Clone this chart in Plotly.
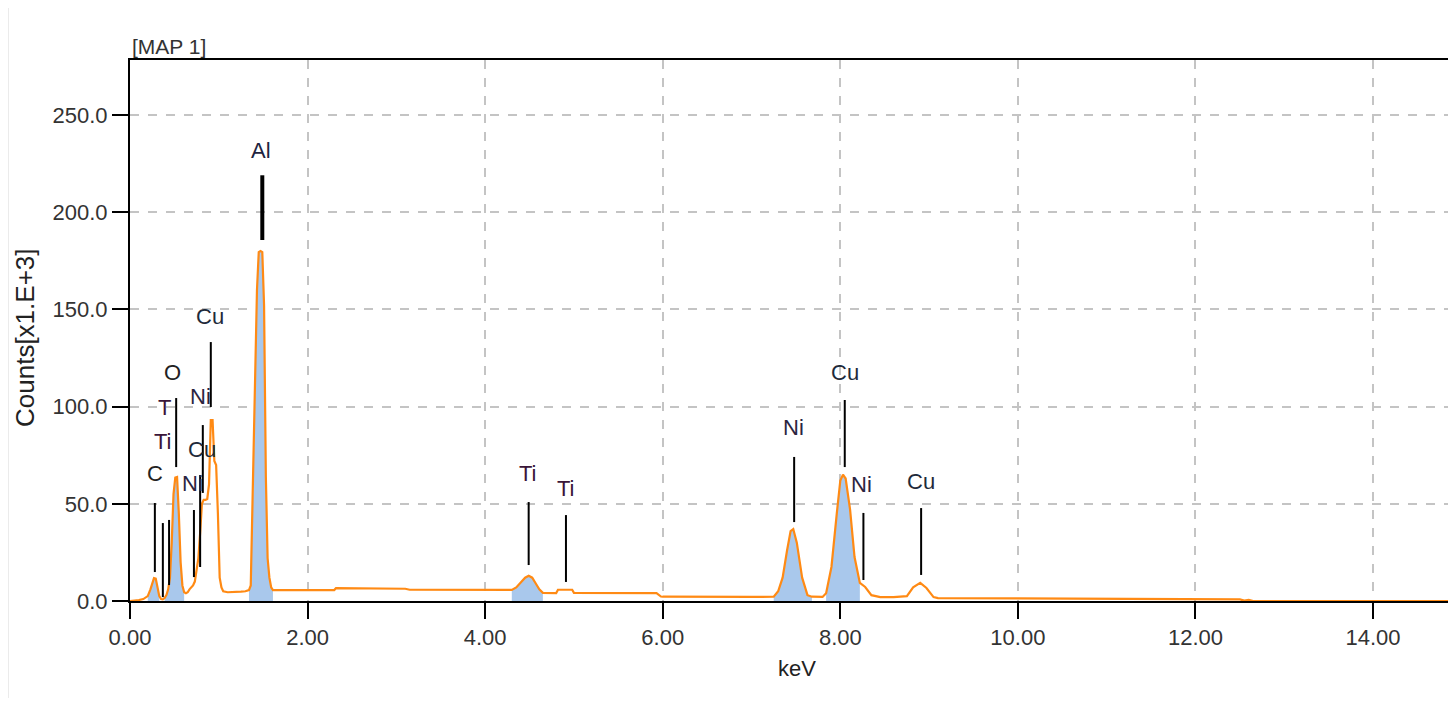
import plotly.graph_objects as go

# ---- spectrum (keV, counts x1000) ----
energy = [0.00, 0.05, 0.10, 0.15, 0.20, 0.23, 0.25, 0.27, 0.29, 0.31, 0.33, 0.35, 0.37, 0.39,
          0.41, 0.43, 0.45, 0.47, 0.49, 0.51, 0.53, 0.55, 0.57, 0.59, 0.61, 0.63, 0.65, 0.67,
          0.69, 0.71, 0.73, 0.75, 0.77, 0.79, 0.81, 0.83, 0.85, 0.87, 0.89, 0.91, 0.93, 0.95,
          0.97, 0.99, 1.01, 1.03, 1.05, 1.10, 1.15, 1.20, 1.25, 1.30, 1.34, 1.36, 1.37, 1.39,
          1.41, 1.43, 1.45, 1.47, 1.49, 1.51, 1.53, 1.55, 1.57, 1.59, 1.61, 1.70, 2.00, 2.30,
          2.32, 3.10, 3.15, 4.00, 4.30, 4.35, 4.40, 4.45, 4.49, 4.53, 4.57, 4.61, 4.65, 4.80,
          4.82, 4.98, 5.00, 5.93, 5.98, 6.00, 7.00, 7.25, 7.30, 7.35, 7.40, 7.44, 7.47, 7.51,
          7.57, 7.63, 7.68, 7.80, 7.84, 7.90, 7.96, 8.00, 8.03, 8.06, 8.11, 8.16, 8.22, 8.28,
          8.35, 8.45, 8.60, 8.75, 8.82, 8.90, 8.97, 9.05, 9.10, 10.0, 11.0, 12.0, 12.5, 12.55,
          12.6, 12.65, 15.0]
counts = [0.0, 0.2, 0.5, 1.0, 2.5, 6.0, 9.5, 11.8, 11.5, 7.0, 2.5, 1.0, 0.8, 1.5,
          3.0, 6.0, 12.0, 30.0, 55.0, 63.5, 63.8, 45.0, 20.0, 8.0, 4.5, 4.0, 4.5, 6.0,
          7.0, 8.0, 10.0, 15.0, 22.0, 35.0, 50.0, 52.0, 52.0, 52.5, 60.0, 93.0, 93.0, 72.0,
          70.0, 45.0, 12.0, 7.0, 5.0, 4.5, 4.5, 4.6, 4.8, 5.0, 5.6, 8.0, 31.0, 58.0,
          112.0, 160.0, 179.5, 180.0, 179.5, 152.0, 64.0, 22.0, 12.0, 7.0, 5.6, 5.6, 5.6, 5.6,
          6.6, 6.3, 5.8, 5.7, 5.7, 7.0, 9.5, 12.0, 13.0, 12.0, 9.0, 6.0, 4.2, 4.1,
          5.8, 5.8, 4.2, 4.0, 2.3, 2.2, 2.1, 2.2, 5.0, 12.0, 26.0, 36.0, 37.0, 30.0,
          12.0, 3.0, 2.2, 2.1, 4.0, 17.5, 45.0, 62.0, 65.0, 63.0, 47.0, 22.6, 9.3, 7.2,
          3.0, 2.0, 2.0, 2.5, 7.0, 9.3, 6.7, 2.0, 1.5, 1.4, 1.2, 1.0, 0.8, 0.2,
          0.6, 0.0, 0.0]

# identified peak windows (keV) shaded in blue
fill_lo = [0.20, 0.39, 1.34, 4.30, 7.25, 7.84]
fill_hi = [0.33, 0.61, 1.61, 4.65, 7.68, 8.22]

# ---- element markers ----
marker_label = ["C", "Ti", "T", "O", "Ni", "Cu", "Ni", "Cu", "Al", "Ti", "Ti", "Ni", "Cu", "Ni", "Cu"]
marker_energy = [0.28, 0.37, 0.44, 0.52, 0.72, 0.79, 0.82, 0.91, 1.49, 4.49, 4.91, 7.48, 8.05, 8.26, 8.91]
marker_top = [50.4, 40.1, 41.7, 104.4, 46.8, 64.8, 90.5, 133.2, 219.0, 50.9, 44.2, 74.1, 103.4, 45.3, 47.8]
marker_bottom = [14.9, 2.0, 8.2, 68.9, 12.3, 17.5, 55.6, 99.8, 185.7, 18.5, 9.8, 40.6, 68.9, 10.8, 13.4]
label_x = [0.28, 0.37, 0.39, 0.48, 0.70, 0.81, 0.79, 0.90, 1.475, 4.48, 4.91, 7.47, 8.05, 8.24, 8.91]
label_y = [65.8, 81.8, 99.3, 117.8, 60.7, 77.7, 105.0, 146.6, 232.0, 65.8, 58.1, 89.5, 117.3, 59.7, 61.7]

x_ticks = [0, 2, 4, 6, 8, 10, 12, 14]
y_ticks = [0, 50, 100, 150, 200, 250]

label_colors = {"Ti": "#3a1538", "T": "#3a1538", "Ni": "#2b2440", "Cu": "#1e2a3a",
                "Al": "#1e2440", "O": "#222222", "C": "#222222"}

FONT = "Liberation Sans, Arial, sans-serif"
ORANGE = "#ff8a14"
BLUE = "#a9c8ec"

# page body has an 8px margin; compensate so the plot frame lands where it should
W, H = 1440, 690
L, T = 122, 52
PW, PH = W - L, 541
B = H - T - PH
PX_PER_KEV = 88.79

fig = go.Figure()

for lo, hi in zip(fill_lo, fill_hi):
    xs = [e for e in energy if lo <= e <= hi]
    ys = [c for e, c in zip(energy, counts) if lo <= e <= hi]
    fig.add_trace(go.Scatter(x=xs, y=ys, mode="lines", fill="tozeroy",
                             fillcolor=BLUE, line=dict(width=0, color=BLUE),
                             hoverinfo="skip", showlegend=False))

fig.add_trace(go.Scatter(x=energy, y=counts, mode="lines",
                         line=dict(color=ORANGE, width=2.2), showlegend=False))

shapes = []
annotations = []
for lab, e, top, bot, lx, ly in zip(marker_label, marker_energy, marker_top, marker_bottom, label_x, label_y):
    shapes.append(dict(type="line", xref="x", yref="y", x0=e, x1=e, y0=bot, y1=top,
                       line=dict(color="black", width=4 if lab == "Al" else 2)))
    annotations.append(dict(x=lx, y=ly, xref="x", yref="y", text=lab, showarrow=False,
                            font=dict(family=FONT, size=22, color=label_colors[lab]),
                            xanchor="center", yanchor="middle"))

# faint panel border at left edge
shapes.append(dict(type="line", xref="paper", yref="paper", x0=-122 / PW, x1=-122 / PW,
                   y0=-B / PH, y1=1 + T / PH, line=dict(color="#e4e4e4", width=1.5)))

annotations.append(dict(x=0, y=1 + 13 / PH, xref="paper", yref="paper", text="[MAP 1]",
                        showarrow=False, xanchor="left", yanchor="middle",
                        font=dict(family=FONT, size=21, color="#333333")))
annotations.append(dict(x=-105 / PW, y=(601 - 338) / PH, xref="paper", yref="paper",
                        text="Counts[x1.E+3]", textangle=-90, showarrow=False,
                        xanchor="center", yanchor="middle",
                        font=dict(family=FONT, size=26, color="#222222")))
annotations.append(dict(x=(797 - 130) / PW, y=-(668 - 601) / PH, xref="paper", yref="paper",
                        text="keV", showarrow=False, xanchor="center", yanchor="middle",
                        font=dict(family=FONT, size=22, color="#222222")))

fig.update_layout(
    width=W, height=H,
    margin=dict(l=L, r=0, t=T, b=B),
    paper_bgcolor="white", plot_bgcolor="white",
    shapes=shapes, annotations=annotations,
    showlegend=False,
    xaxis=dict(range=[0, PW / PX_PER_KEV], tickvals=x_ticks, tickformat=".2f",
               showgrid=True, gridcolor="#c4c4c4", griddash="dash", gridwidth=1.5,
               showline=True, linecolor="black", linewidth=2, mirror=True,
               ticks="outside", ticklen=16, tickwidth=2, tickcolor="black",
               zeroline=False,
               tickfont=dict(family=FONT, size=22, color="#333333")),
    yaxis=dict(range=[0, 278.3], tickvals=y_ticks, tickformat=".1f",
               showgrid=True, gridcolor="#c4c4c4", griddash="dash", gridwidth=1.5,
               showline=True, linecolor="black", linewidth=2,
               ticks="outside", ticklen=16, tickwidth=2, tickcolor="black",
               zeroline=False,
               tickfont=dict(family=FONT, size=22, color="#333333")),
)

fig.write_html("out.html")
